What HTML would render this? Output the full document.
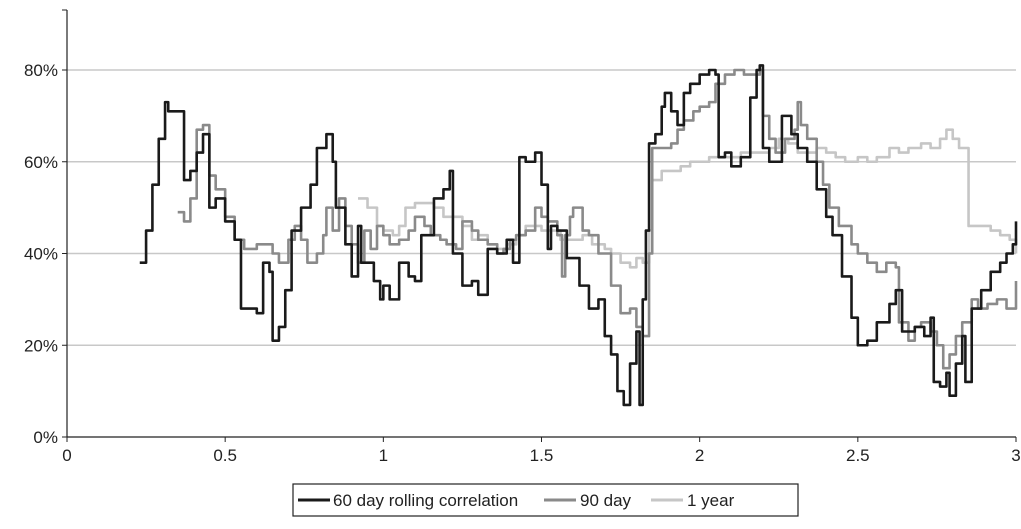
<!DOCTYPE html>
<html><head><meta charset="utf-8"><style>
body{margin:0;background:#fff;width:1021px;height:524px;overflow:hidden;font-family:"Liberation Sans",sans-serif}
</style></head><body>
<svg id="chart" width="1021" height="524" xmlns="http://www.w3.org/2000/svg" font-family="Liberation Sans, sans-serif">
<g id="grid"></g><g id="series"></g><g id="axes"></g>
<g>
<rect x="293" y="484" width="505" height="32" fill="#fff" stroke="#222" stroke-width="1.2"/>
<g><line x1="298" y1="500" x2="330" y2="500" stroke="#1a1a1a" stroke-width="3"/><text x="333" y="506" font-size="17" fill="#222">60 day rolling correlation</text></g>
<g><line x1="544" y1="500" x2="576" y2="500" stroke="#8a8a8a" stroke-width="3"/><text x="580" y="506" font-size="17" fill="#222">90 day</text></g>
<g><line x1="651" y1="500" x2="683" y2="500" stroke="#c6c6c6" stroke-width="3"/><text x="687" y="506" font-size="17" fill="#222">1 year</text></g>
</g>
</svg>
<script>
const xTicks=[0,0.5,1,1.5,2,2.5,3];
const xTickLabels=["0","0.5","1","1.5","2","2.5","3"];
const yTicks=[0,20,40,60,80];
const yTickLabels=["0%","20%","40%","60%","80%"];
const s60x=[0.23,0.25,0.27,0.29,0.31,0.32,0.35,0.37,0.39,0.41,0.43,0.45,0.47,0.5,0.53,0.55,0.6,0.62,0.64,0.65,0.67,0.69,0.71,0.74,0.77,0.79,0.82,0.84,0.85,0.88,0.9,0.92,0.93,0.95,0.97,0.99,1.0,1.02,1.05,1.08,1.1,1.12,1.14,1.16,1.19,1.21,1.22,1.25,1.28,1.3,1.33,1.36,1.39,1.41,1.43,1.45,1.48,1.5,1.52,1.53,1.55,1.58,1.62,1.65,1.68,1.7,1.72,1.74,1.76,1.78,1.8,1.81,1.82,1.83,1.84,1.86,1.88,1.89,1.91,1.93,1.95,1.97,2.0,2.03,2.05,2.06,2.08,2.1,2.13,2.16,2.18,2.19,2.2,2.22,2.24,2.26,2.29,2.31,2.34,2.37,2.4,2.42,2.45,2.48,2.5,2.53,2.56,2.6,2.62,2.64,2.68,2.71,2.73,2.74,2.76,2.78,2.79,2.81,2.83,2.84,2.86,2.89,2.92,2.95,2.97,2.99,3.0];
const s60y=[38,45,55,65,73,71,71,56,58,62,66,50,52,47,43,28,27,38,36,21,24,32,45,50,55,63,66,60,50,42,35,46,38,38,34,30,33,30,38,35,34,44,44,52,54,58,40,33,34,31,41,40,43,38,61,60,62,55,41,46,45,39,33,28,30,22,18,10,7,16,23,7,30,45,64,66,72,75,71,68,75,77,79,80,79,61,62,59,61,74,80,81,63,60,60,70,66,63,60,54,48,44,35,26,20,21,25,29,32,23,24,22,26,12,11,14,9,16,22,12,28,32,36,38,40,42,47];
const s90x=[0.35,0.37,0.39,0.41,0.43,0.45,0.47,0.5,0.53,0.56,0.6,0.63,0.65,0.67,0.7,0.72,0.74,0.76,0.79,0.81,0.82,0.84,0.86,0.88,0.9,0.92,0.94,0.96,0.98,1.0,1.02,1.05,1.08,1.1,1.13,1.15,1.18,1.2,1.23,1.25,1.28,1.3,1.33,1.36,1.38,1.4,1.42,1.45,1.48,1.5,1.52,1.55,1.565,1.575,1.59,1.6,1.63,1.65,1.68,1.72,1.75,1.78,1.8,1.82,1.84,1.85,1.88,1.91,1.93,1.95,1.98,2.0,2.03,2.05,2.08,2.11,2.14,2.17,2.19,2.2,2.22,2.24,2.27,2.3,2.31,2.32,2.34,2.37,2.39,2.41,2.44,2.48,2.5,2.53,2.56,2.59,2.62,2.63,2.66,2.68,2.7,2.73,2.75,2.77,2.79,2.81,2.83,2.86,2.88,2.91,2.94,2.97,3.0];
const s90y=[49,47,52,67,68,57,54,48,43,41,42,42,40,38,43,46,43,38,40,44,50,45,52,46,42,38,45,41,46,44,42,43,45,48,46,44,43,42,41,47,45,43,42,40,41,43,44,45,50,48,47,44,35,44,48,50,45,44,40,33,27,28,24,22,40,63,63,64,67,69,71,72,73,77,79,80,79,79,80,70,65,62,65,67,73,68,65,60,55,50,46,42,40,38,36,38,37,25,21,24,25,23,20,15,18,22,25,30,28,29,30,28,34];
const s1yx=[0.92,0.95,0.98,1.0,1.03,1.05,1.07,1.1,1.13,1.16,1.19,1.22,1.25,1.28,1.3,1.33,1.36,1.39,1.42,1.45,1.48,1.5,1.53,1.56,1.6,1.63,1.66,1.7,1.72,1.75,1.78,1.8,1.82,1.84,1.85,1.88,1.91,1.94,1.97,2.0,2.03,2.06,2.1,2.13,2.16,2.19,2.22,2.25,2.28,2.31,2.34,2.37,2.4,2.43,2.46,2.5,2.53,2.56,2.6,2.63,2.66,2.7,2.73,2.76,2.78,2.8,2.82,2.84,2.85,2.88,2.92,2.95,2.98,3.0];
const s1yy=[52,50,46,45,44,46,50,51,51,50,48,48,46,43,44,42,41,42,44,46,46,45,45,43,43,44,42,41,40,38,37,39,38,45,56,58,58,59,60,60,61,61,61,62,62,62,63,65,64,62,62,63,62,61,60,61,60,61,63,62,63,64,63,65,67,65,63,63,46,46,45,44,43,40];
const X0=67,X1=1016,Y0=437,Y80=70;
const sx=v=>X0+(X1-X0)*v/3;
const sy=v=>Y0-(Y0-Y80)*v/80;
const NS="http://www.w3.org/2000/svg";
function mk(t,a,p){const e=document.createElementNS(NS,t);for(const k in a)e.setAttribute(k,a[k]);p.appendChild(e);return e;}
const grid=document.getElementById('grid'),axes=document.getElementById('axes'),ser=document.getElementById('series');
yTicks.forEach((v,i)=>{
 if(v>0){const g=mk('line',{x1:X0,x2:X1,y1:sy(v),y2:sy(v),stroke:'#c8c8c8','stroke-width':1.5},grid);
 
 }
 const t=mk('text',{x:58,y:sy(v)+6,'text-anchor':'end','font-size':17,fill:'#222'},axes);t.textContent=yTickLabels[i];
 
 
 mk('line',{x1:X0-5,x2:X0,y1:sy(v),y2:sy(v),stroke:'#222'},axes);
});
mk('line',{x1:X0-5,x2:X0,y1:10,y2:10,stroke:'#222'},axes);
const ya=mk('line',{x1:X0,x2:X0,y1:10,y2:Y0,stroke:'#222','stroke-width':1.2},axes);


const xa=mk('line',{x1:X0,x2:X1,y1:Y0,y2:Y0,stroke:'#222','stroke-width':1.2},axes);


xTicks.forEach((v,i)=>{
 mk('line',{x1:sx(v),x2:sx(v),y1:Y0,y2:Y0+5,stroke:'#222'},axes);
 const t=mk('text',{x:sx(v),y:Y0+24,'text-anchor':'middle','font-size':17,fill:'#222'},axes);t.textContent=xTickLabels[i];
 
 
});
function draw(xs,ys,col,name){
 let d='M'+sx(xs[0])+','+sy(ys[0]);
 for(let i=1;i<xs.length;i++){d+='H'+sx(xs[i])+'V'+sy(ys[i]);}
 const p=mk('path',{d:d,fill:'none',stroke:col,'stroke-width':2.6,'stroke-linejoin':'round'},ser);
 
 
}
draw(s1yx,s1yy,'#c6c6c6','series-1-year');
draw(s90x,s90y,'#8a8a8a','series-90-day');
draw(s60x,s60y,'#1a1a1a','series-60-day');
</script>
</body></html>
